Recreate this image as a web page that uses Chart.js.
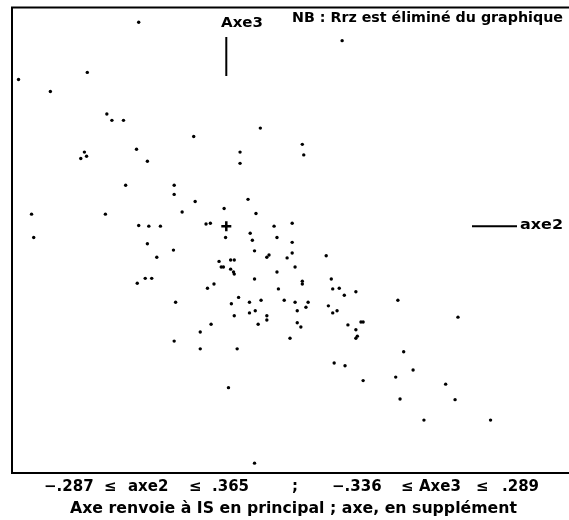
<!DOCTYPE html>
<html>
<head>
<meta charset="utf-8">
<script src="https://cdn.jsdelivr.net/npm/chart.js@4"></script>
<style>
  html, body { margin: 0; padding: 0; background: #fff; }
  canvas { display: block; }
</style>
</head>
<body>
<canvas id="chart" width="569" height="520"></canvas>
<script>
// axe2 (horizontal) and Axe3 (vertical) coordinates of each individual
var axe2 = [
  -0.121, -0.192, -0.287, -0.243, -0.165, -0.158, -0.142, -0.045, -0.196, -0.201,
  -0.193, -0.124, -0.109,  0.160,  0.047,  0.019,  0.019,  0.105,  0.107, -0.139,
  -0.072, -0.072, -0.043, -0.269, -0.167, -0.061, -0.121, -0.107, -0.091, -0.266,
  -0.109, -0.073, -0.096, -0.112, -0.103, -0.123, -0.070, -0.003,  0.030,  0.041,
  -0.028, -0.022, -0.001,  0.033,  0.036,  0.066,  0.091,  0.070,  0.091,  0.039,
   0.056,  0.059,  0.091,  0.084,  0.138, -0.010,  0.006,  0.011, -0.007, -0.004,
   0.006,  0.010,  0.011,  0.095,  0.070,  0.105,  0.105,  0.039,  0.145, -0.026,
  -0.017,  0.072,  0.147,  0.156,  0.179,  0.163,  0.017,  0.007,  0.032,  0.048,
   0.080,  0.095,  0.113,  0.110,  0.141,  0.147,  0.153,  0.011,  0.032,  0.040,
   0.056,  0.056,  0.098, -0.021,  0.044,  0.098,  0.103,  0.168,  0.186,  0.189,
   0.179, -0.036,  0.088,  0.181,  0.179,  0.237,  0.320, -0.072, -0.036,  0.015,
   0.149,  0.164,  0.189,  0.003,  0.039,  0.245,  0.258,  0.234,  0.303,  0.240,
   0.316,  0.273,  0.365
];
var axe3 = [
   0.289,  0.218,  0.208,  0.191,  0.159,  0.150,  0.150,  0.127,  0.105,  0.096,
   0.099,  0.109,  0.092,  0.263,  0.139,  0.105,  0.089,  0.116,  0.101,  0.058,
   0.058,  0.045,  0.035,  0.017,  0.017,  0.020,  0.001,  0.000,  0.000, -0.016,
  -0.025, -0.034, -0.044, -0.074, -0.074, -0.081, -0.108,  0.025,  0.038,  0.018,
   0.003,  0.004, -0.016, -0.010, -0.020,  0.000,  0.004, -0.016, -0.023, -0.035,
  -0.044, -0.041, -0.038, -0.045, -0.042, -0.050, -0.048, -0.048, -0.058, -0.058,
  -0.061, -0.065, -0.068, -0.058, -0.065, -0.078, -0.082, -0.075, -0.075, -0.088,
  -0.082, -0.089, -0.089, -0.088, -0.093, -0.098, -0.101, -0.110, -0.108, -0.105,
  -0.105, -0.108, -0.108, -0.115, -0.113, -0.123, -0.120, -0.127, -0.123, -0.120,
  -0.127, -0.133, -0.120, -0.139, -0.139, -0.137, -0.143, -0.140, -0.136, -0.136,
  -0.147, -0.150, -0.159, -0.156, -0.159, -0.105, -0.129, -0.163, -0.174, -0.174,
  -0.194, -0.198, -0.219, -0.229, -0.336, -0.178, -0.204, -0.214, -0.224, -0.245,
  -0.246, -0.275, -0.275
];
var axe2Range = [-0.287, 0.365];
var axe3Range = [-0.336, 0.289];

var points = axe2.map(function(v, i) { return { x: v, y: axe3[i] }; });

var F = '"DejaVu Sans", sans-serif';

function fmt(v) {
  return (v < 0 ? '−' : '') + Math.abs(v).toFixed(3).replace(/^0/, '');
}

// draw text squeezed/stretched to a given width
function fitText(ctx, txt, x, y, w, size) {
  ctx.font = 'bold ' + size + 'px ' + F;
  var m = ctx.measureText(txt).width;
  ctx.save();
  ctx.translate(x, y);
  ctx.scale(w / m, 1);
  ctx.fillText(txt, 0, 0);
  ctx.restore();
}

var frame = {
  id: 'frame',
  afterDraw: function(chart) {
    var ctx = chart.ctx;
    var a = chart.chartArea;
    var sx = chart.scales.x, sy = chart.scales.y;
    var ox = sx.getPixelForValue(0), oy = sy.getPixelForValue(0);
    ctx.save();
    ctx.strokeStyle = '#000';
    ctx.lineWidth = 2;
    ctx.beginPath();
    ctx.moveTo(chart.width, a.top);
    ctx.lineTo(a.left, a.top);
    ctx.lineTo(a.left, a.bottom);
    ctx.lineTo(chart.width, a.bottom);
    ctx.stroke();

    // axis markers
    ctx.beginPath();
    ctx.moveTo(ox, 37); ctx.lineTo(ox, 76);
    ctx.moveTo(472, oy); ctx.lineTo(517, oy);
    ctx.stroke();

    ctx.fillStyle = '#000';
    ctx.textBaseline = 'middle';
    ctx.textAlign = 'left';
    fitText(ctx, 'Axe3', 221, 23, 42, 14);
    fitText(ctx, 'NB : Rrz est éliminé du graphique', 292, 18, 271, 14);
    fitText(ctx, 'axe2', 520, 225, 43, 14);

    ctx.font = 'bold 15px ' + F;
    var parts = [
      [fmt(axe2Range[0]), 44],
      ['≤', 104], ['axe2', 128], ['≤', 189],
      [fmt(axe2Range[1]), 212], [';', 292],
      [fmt(axe3Range[0]), 332],
      ['≤', 401], ['Axe3', 419], ['≤', 476],
      [fmt(axe3Range[1]), 502]
    ];
    parts.forEach(function(p) { ctx.fillText(p[0], p[1], 487); });
    fitText(ctx, 'Axe renvoie à IS en principal ; axe, en supplément', 70, 509, 447, 15);
    ctx.restore();
  }
};

new Chart(document.getElementById('chart'), {
  type: 'scatter',
  data: {
    datasets: [{
      data: points,
      pointRadius: 1.7,
      pointBackgroundColor: '#000',
      pointBorderWidth: 0
    }, {
      data: [{ x: 0, y: 0 }],
      pointStyle: 'cross',
      pointRadius: 5,
      pointBorderColor: '#000',
      pointBorderWidth: 2.5
    }]
  },
  options: {
    responsive: false,
    animation: false,
    layout: { padding: { left: 12, top: 7, right: 6, bottom: 47 } },
    plugins: { legend: { display: false }, tooltip: { enabled: false } },
    scales: {
      x: { display: false, min: -0.296, max: 0.463 },
      y: { display: false, min: -0.350, max: 0.310 }
    }
  },
  plugins: [frame]
});
</script>
</body>
</html>
